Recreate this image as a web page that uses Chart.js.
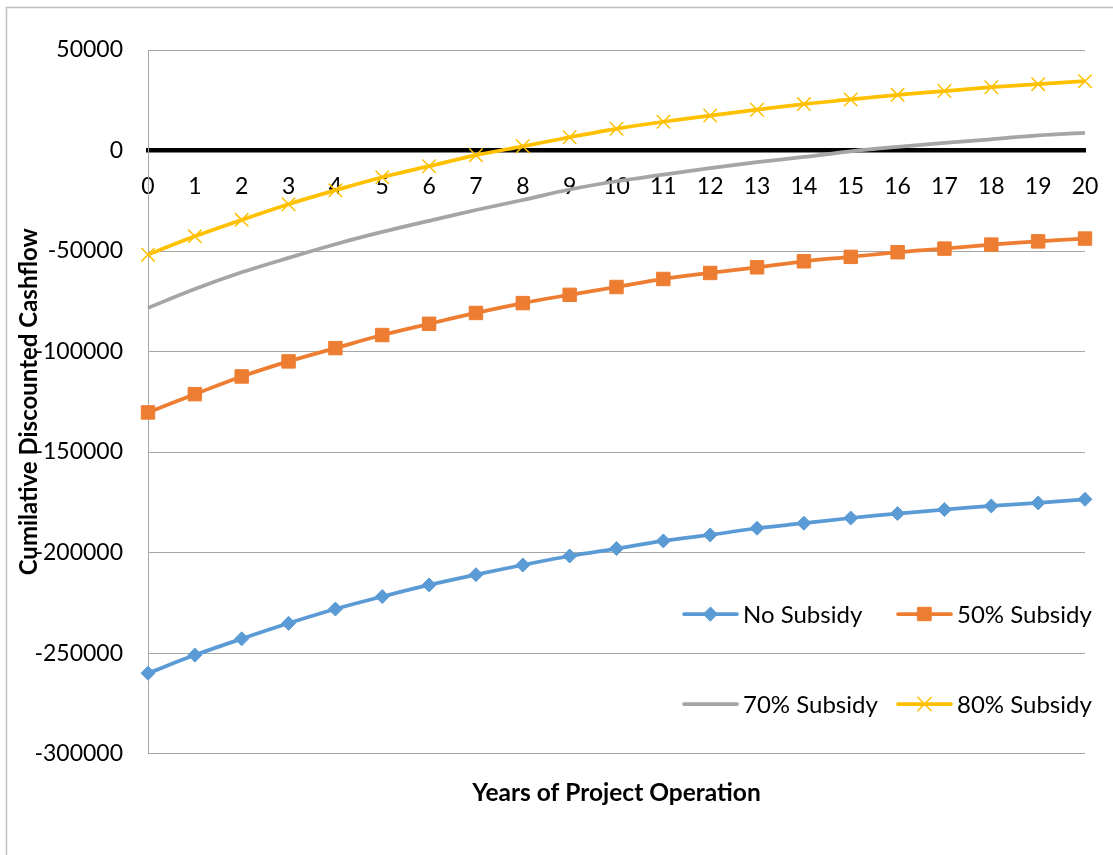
<!DOCTYPE html>
<html>
<head>
<meta charset="utf-8">
<title>Cumilative Discounted Cashflow</title>
<script src="https://cdn.jsdelivr.net/npm/chart.js@4.4.1/dist/chart.umd.min.js"></script>
<style>
  html, body { margin: 0; padding: 0; background: #ffffff; }
  canvas { display: block; }
</style>
</head>
<body>
<canvas id="cashflow" width="1113" height="855"></canvas>
<script>
// Years of operation (x categories)
const years = [0, 1, 2, 3, 4, 5, 6, 7, 8, 9, 10, 11, 12, 13, 14, 15, 16, 17, 18, 19, 20];

// Cumulative discounted cashflow per subsidy level
const noSubsidy = [-260000, -251000, -242900, -235200, -228100, -221900, -216100, -211000, -206200, -201700,
  -198000, -194200, -191200, -187900, -185400, -182800, -180600, -178600, -176800, -175300, -173500];
const subsidy50 = [-130300, -121200, -112400, -104900, -98300, -91800, -86200, -80800, -75900, -71800,
  -67900, -63900, -60900, -58100, -55100, -52900, -50600, -48800, -46800, -45200, -43800];
const subsidy70 = [-78300, -68900, -60600, -53400, -46600, -40500, -35000, -29600, -24600, -19400,
  -15300, -12000, -8800, -5800, -3200, -400, 1800, 3800, 5600, 7500, 8800];
const subsidy80 = [-51800, -42700, -34500, -26700, -19800, -13300, -7800, -2300, 2100, 6600,
  10800, 14300, 17400, 20300, 23100, 25400, 27700, 29600, 31500, 33000, 34500];

const seriesNames = ['No Subsidy', '50% Subsidy', '70% Subsidy', '80% Subsidy'];
const yTickValues = [50000, 0, -50000, -100000, -150000, -200000, -250000, -300000];

const FONT = 'Lato, "Open Sans", "DejaVu Sans", sans-serif';

function points(values) {
  return years.map((x, i) => ({ x: x, y: values[i] }));
}

// Light frame along the top and left edges of the chart object
const framePlugin = {
  id: 'frame',
  beforeDraw(chart) {
    const ctx = chart.ctx;
    ctx.save();
    ctx.fillStyle = '#ffffff';
    ctx.fillRect(0, 0, chart.width, chart.height);
    ctx.strokeStyle = '#bfbfbf';
    ctx.lineWidth = 1.5;
    ctx.beginPath();
    ctx.moveTo(6.5, chart.height);
    ctx.lineTo(6.5, 7.5);
    ctx.lineTo(chart.width, 7.5);
    ctx.stroke();
    ctx.restore();
  }
};

// Two-column legend placed inside the lower right of the plot area
const insideLegend = {
  id: 'insideLegend',
  afterDatasetsDraw(chart) {
    const ctx = chart.ctx;
    const cols = [684, 898];
    const rows = [614, 704];
    ctx.save();
    chart.data.datasets.forEach((ds, i) => {
      const x0 = cols[i % 2];
      const y = rows[Math.floor(i / 2)];
      ctx.strokeStyle = ds.borderColor;
      ctx.lineWidth = ds.borderWidth;
      ctx.lineCap = 'round';
      ctx.beginPath();
      ctx.moveTo(x0, y);
      ctx.lineTo(x0 + 53, y);
      ctx.stroke();
      if (ds.pointRadius > 0) {
        ctx.fillStyle = ds.pointBackgroundColor;
        ctx.strokeStyle = ds.pointBorderColor;
        ctx.lineWidth = ds.pointBorderWidth;
        Chart.helpers.drawPoint(ctx, {
          pointStyle: ds.pointStyle,
          radius: ds.pointRadius,
          borderWidth: ds.pointBorderWidth,
          rotation: 0
        }, x0 + 26.5, y);
      }
      ctx.fillStyle = '#000000';
      ctx.font = '24px ' + FONT;
      ctx.textAlign = 'left';
      ctx.textBaseline = 'middle';
      ctx.fillText(ds.label, x0 + 59, y + 1);
    });
    ctx.restore();
  }
};

const lineBase = {
  borderWidth: 3.75,
  tension: 0.35,
  fill: false,
  clip: false
};

new Chart(document.getElementById('cashflow'), {
  type: 'line',
  data: {
    datasets: [
      Object.assign({}, lineBase, {
        label: seriesNames[0], data: points(noSubsidy),
        borderColor: '#5B9BD5', pointStyle: 'rectRot', pointRadius: 7,
        pointBackgroundColor: '#5B9BD5', pointBorderColor: '#5B9BD5', pointBorderWidth: 1
      }),
      Object.assign({}, lineBase, {
        label: seriesNames[1], data: points(subsidy50),
        borderColor: '#ED7D31', pointStyle: 'rect', pointRadius: 9.5,
        pointBackgroundColor: '#ED7D31', pointBorderColor: '#ED7D31', pointBorderWidth: 1
      }),
      Object.assign({}, lineBase, {
        label: seriesNames[2], data: points(subsidy70),
        borderColor: '#A5A5A5', pointRadius: 0, pointHoverRadius: 0,
        pointBackgroundColor: '#A5A5A5', pointBorderColor: '#A5A5A5', pointBorderWidth: 0
      }),
      Object.assign({}, lineBase, {
        label: seriesNames[3], data: points(subsidy80),
        borderColor: '#FFC000', pointStyle: 'crossRot', pointRadius: 9.5,
        pointBackgroundColor: '#FFC000', pointBorderColor: '#FFC000', pointBorderWidth: 1.5
      })
    ]
  },
  options: {
    responsive: false,
    animation: false,
    devicePixelRatio: 1,
    layout: { padding: { left: 6, right: 28, top: 50, bottom: 0 } },
    plugins: {
      legend: { display: false },
      tooltip: { enabled: false },
      title: { display: false }
    },
    scales: {
      x: {
        type: 'linear',
        min: years[0],
        max: years[years.length - 1],
        position: { y: 0 },
        afterFit(scale) { scale.paddingLeft = 0; scale.paddingRight = 0; },
        grid: { display: false, drawTicks: false },
        border: { display: true, color: '#000000', width: 4.5 },
        ticks: {
          stepSize: 1,
          autoSkip: false,
          maxRotation: 0,
          padding: 22,
          color: '#000000',
          font: { family: FONT, size: 23 }
        }
      },
      xTitle: {
        type: 'linear',
        axis: 'x',
        position: 'bottom',
        min: years[0],
        max: years[years.length - 1],
        grid: { display: false, drawTicks: false },
        border: { display: false },
        ticks: { display: false },
        title: {
          display: true,
          text: 'Years of Project Operation',
          color: '#000000',
          font: { family: FONT, size: 24.5, weight: 'bold', lineHeight: 1.2 },
          padding: { top: 25, bottom: 47 }
        }
      },
      y: {
        type: 'linear',
        position: 'left',
        min: yTickValues[yTickValues.length - 1],
        max: yTickValues[0],
        afterBuildTicks(scale) {
          scale.ticks = yTickValues.slice().reverse().map(v => ({ value: v }));
        },
        afterFit(scale) { scale.width = 142; },
        grid: { color: '#a6a6a6', lineWidth: 1, drawTicks: false },
        border: { display: true, color: '#a6a6a6', width: 1 },
        ticks: {
          padding: 25,
          color: '#000000',
          font: { family: FONT, size: 23 },
          callback: v => String(v)
        },
        title: {
          display: true,
          text: 'Cumilative Discounted Cashflow',
          color: '#000000',
          font: { family: FONT, size: 24, weight: 'bold', lineHeight: 1.2 },
          padding: { top: 9, bottom: 0 }
        }
      }
    }
  },
  plugins: [framePlugin, insideLegend]
});
</script>
</body>
</html>
